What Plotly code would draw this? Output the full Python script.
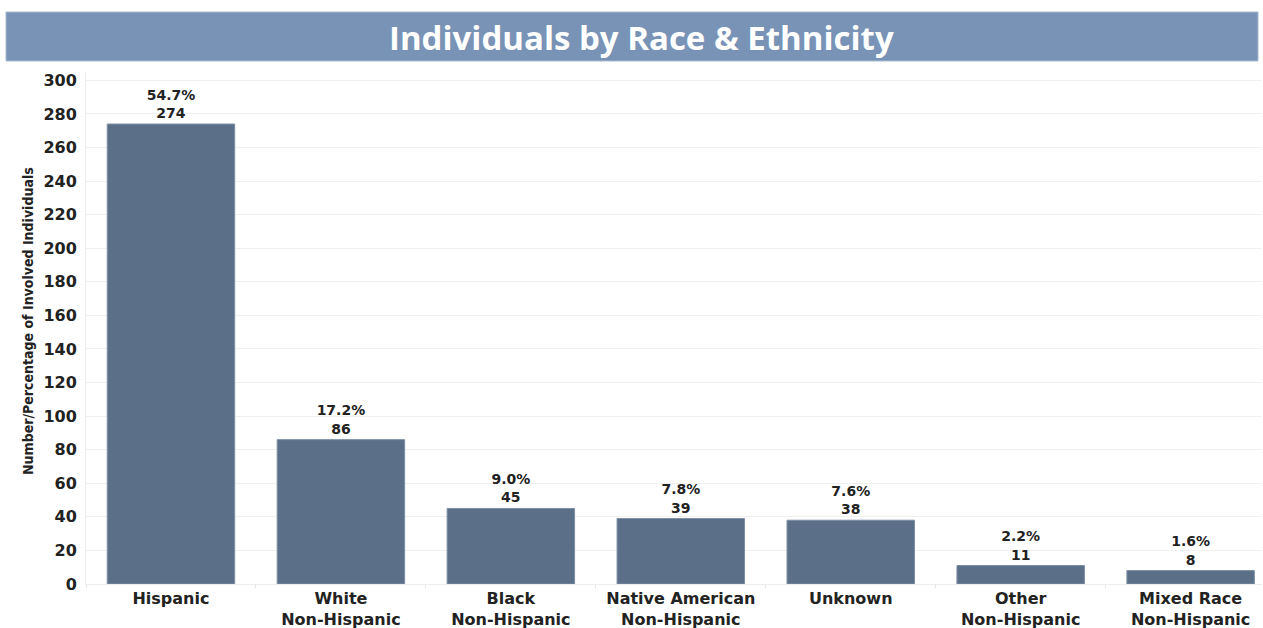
import plotly.graph_objects as go

categories = ["Hispanic", "White<br>Non-Hispanic", "Black<br>Non-Hispanic",
              "Native American<br>Non-Hispanic", "Unknown",
              "Other<br>Non-Hispanic", "Mixed Race<br>Non-Hispanic"]
counts = [274, 86, 45, 39, 38, 11, 8]
percents = ["54.7%", "17.2%", "9.0%", "7.8%", "7.6%", "2.2%", "1.6%"]
y_ticks = list(range(0, 301, 20))

title_text = "Individuals by Race & Ethnicity"
y_title = "Number/Percentage of Involved Individuals"

labels = [f"{p}<br>{c}" for p, c in zip(percents, counts)]

W, H = 1263, 628
ml, mr, mt, mb = 86, 1, 72, 44
pw = W - ml - mr
ph = H - mt - mb

def px_x(x):
    return (x - ml) / pw

def px_y(y):
    return (H - mb - y) / ph

fig = go.Figure()
fig.add_trace(go.Bar(
    x=categories, y=counts,
    marker=dict(color="#5b6f88", line=dict(width=1, color="#7d8fa5")),
    width=0.75,
    text=labels, textposition="outside",
    textfont=dict(family="DejaVu Sans", size=14, color="#222222", weight="bold"),
    constraintext="none", cliponaxis=False,
    hoverinfo="x+y",
))

fig.update_layout(
    width=W, height=H,
    margin=dict(l=ml, r=mr, t=mt, b=mb),
    paper_bgcolor="white", plot_bgcolor="white",
    showlegend=False,
    font=dict(family="DejaVu Sans", color="#222222"),
    xaxis=dict(
        type="category",
        range=[-0.5, 6.42],
        automargin=False,
        tickfont=dict(family="DejaVu Sans", size=16, color="#222222", weight="bold"),
        showgrid=False,
        tickson="boundaries", ticks="outside", ticklen=3, tickcolor="#e6e6e6",
        showline=True, linecolor="#eeeeee", linewidth=1,
        fixedrange=True,
    ),
    yaxis=dict(
        range=[0, 305],
        automargin=False,
        tickvals=y_ticks,
        tickfont=dict(family="DejaVu Sans", size=16, color="#222222", weight="bold"),
        showgrid=True, gridcolor="#f0f0f0", gridwidth=1,
        zeroline=False,
        showline=True, linecolor="#eeeeee", linewidth=1,
        ticks="", ticklabelstandoff=5,
    ),
    shapes=[dict(
        type="rect", xref="paper", yref="paper",
        x0=px_x(6), x1=px_x(1258), y0=px_y(61), y1=px_y(12),
        fillcolor="#7893b6", line=dict(width=1, color="#a9bbd1"), layer="above",
    )],
    annotations=[
        dict(text=title_text, xref="paper", yref="paper",
             x=px_x(641), y=px_y(37), xanchor="center", yanchor="middle",
             showarrow=False,
             font=dict(family="Open Sans", size=33, color="white", weight="bold")),
        dict(text=y_title, xref="paper", yref="paper",
             x=px_x(28), y=px_y(321), xanchor="center", yanchor="middle",
             textangle=-90, showarrow=False,
             font=dict(family="DejaVu Sans Condensed, sans-serif",
                       size=14, color="#222222", weight="bold")),
    ],
)

fig.write_html("out.html",
               config={"displayModeBar": False},
               post_script="document.body.style.margin='0';document.body.style.padding='0';")
